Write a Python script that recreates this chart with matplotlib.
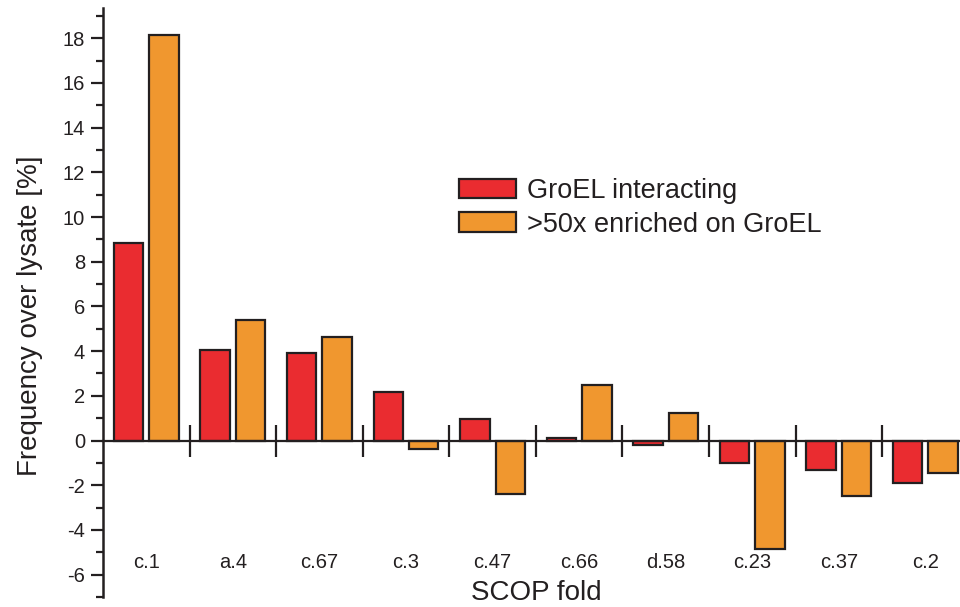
import matplotlib
matplotlib.use("Agg")
import matplotlib.pyplot as plt
import numpy as np

plt.rcParams['font.family'] = ['Liberation Sans', 'DejaVu Sans']
plt.rcParams['axes.unicode_minus'] = False

folds = ["c.1", "a.4", "c.67", "c.3", "c.47", "c.66", "d.58", "c.23", "c.37", "c.2"]
groel_interacting = [8.84, 4.06, 3.93, 2.16, 0.97, 0.13, -0.18, -1.01, -1.30, -1.92]
enriched_50x = [18.15, 5.40, 4.65, -0.40, -2.37, 2.47, 1.22, -4.84, -2.46, -1.46]

red = "#EA2C30"
orange = "#F0972F"
ink = "#231F20"

fig = plt.figure(figsize=(9.6, 6.07), dpi=100)
ax = fig.add_axes([103 / 960, 10 / 607, 857 / 960, 589 / 607])

x = np.arange(len(folds))
w = 0.34
off = 0.205
ax.bar(x - off, groel_interacting, w, color=red, edgecolor=ink, linewidth=1.6,
       label="GroEL interacting", zorder=3)
ax.bar(x + off, enriched_50x, w, color=orange, edgecolor=ink, linewidth=1.6,
       label=">50x enriched on GroEL", zorder=3)

ax.set_xlim(-0.5, 9.40)
ax.set_ylim(-6.97, 19.35)

# spines
for s in ("top", "right"):
    ax.spines[s].set_visible(False)
ax.spines["left"].set_linewidth(1.8)
ax.spines["left"].set_color(ink)
ax.spines["bottom"].set_position(("data", 0))
ax.spines["bottom"].set_linewidth(1.6)
ax.spines["bottom"].set_color(ink)
ax.spines["bottom"].set_zorder(4)

# y ticks
ax.set_yticks(np.arange(-6, 19, 2))
ax.set_yticks(np.arange(-7, 20, 1), minor=True)
ax.tick_params(axis="y", which="major", direction="out", length=9, width=1.6,
               color=ink, labelsize=14.5, pad=4, labelcolor=ink)
ax.tick_params(axis="y", which="minor", direction="out", length=5, width=1.6, color=ink)

# x ticks at group boundaries, crossing the zero line
ax.set_xticks(np.arange(0.5, 9.0, 1.0))
ax.set_xticks([], minor=True)
ax.tick_params(axis="x", which="major", direction="inout", length=23, width=1.6,
               color=ink, labelbottom=False)

for xi, name in zip(x, folds):
    ax.text(xi, -5.45, name, ha="center", va="center", fontsize=14.5, color=ink)

fig.text(536 / 960, 1 - 593 / 607, "SCOP fold", ha="center", va="center",
         fontsize=20, color=ink)
fig.text(30 / 960, 1 - 316 / 607, "Frequency over lysate [%]", ha="center",
         va="center", rotation=90, fontsize=20, color=ink)

leg = ax.legend(loc="upper left", bbox_to_anchor=(459 / 960, 1 - 178 / 607),
                bbox_transform=fig.transFigure, frameon=False, fontsize=19.5,
                handlelength=2.1, handleheight=0.75, handletextpad=0.4,
                labelspacing=0.28, borderpad=0, borderaxespad=0)
for t in leg.get_texts():
    t.set_color(ink)

fig.savefig("out.png", dpi=100)
